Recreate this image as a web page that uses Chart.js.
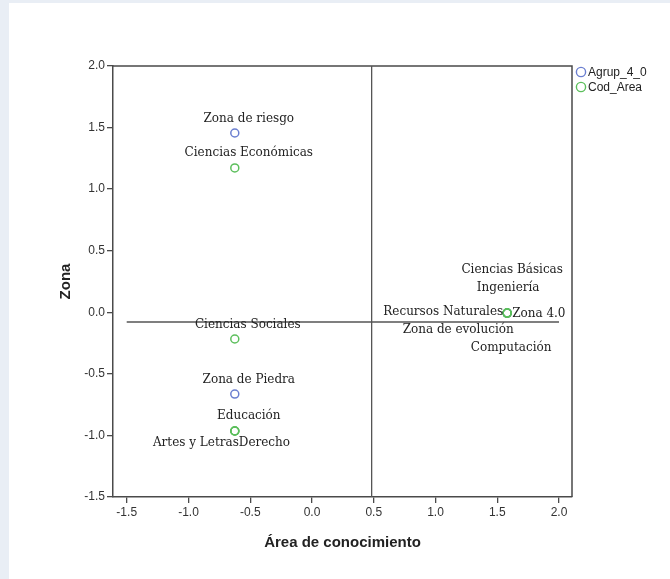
<!DOCTYPE html>
<html>
<head>
<meta charset="utf-8">
<script src="https://cdn.jsdelivr.net/npm/chart.js@4"></script>
<style>
  html, body { margin:0; padding:0; width:670px; height:579px; background:#e9eef5; overflow:hidden; }
  #panel { position:absolute; left:9px; top:3px; right:0; bottom:0; background:#ffffff; }
  #c { position:absolute; left:0; top:0; }
</style>
</head>
<body>
<div id="panel"></div>
<canvas id="c" width="670" height="579"></canvas>
<script>
// ---- data ----
const agrupNames = ['Zona de riesgo', 'Zona de Piedra', 'Zona 4.0', 'Zona de evolución'];
const agrupX = [-0.625, -0.625, 1.58, 1.58];
const agrupY = [1.456, -0.664, -0.006, -0.006];

const codNames = ['Ciencias Económicas', 'Ciencias Sociales', 'Educación', 'Artes y Letras', 'Derecho',
                  'Ciencias Básicas', 'Ingeniería', 'Recursos Naturales', 'Computación'];
const codX = [-0.625, -0.625, -0.625, -0.625, -0.625, 1.58, 1.58, 1.58, 1.58];
const codY = [1.172, -0.217, -0.964, -0.964, -0.964, -0.006, -0.006, -0.006, -0.006];

const seriesNames = ['Agrup_4_0', 'Cod_Area'];
const refLineX = 0.483;          // vertical reference line (x value)
const refLineY = -0.079;         // horizontal reference line (y value)
const refLineYSpan = [-1.5, 2.0];
const xRange = [-1.611, 2.105];
const yRange = [-1.5, 2.0];
const tickStep = 0.5;
const xTitle = 'Área de conocimiento';
const yTitle = 'Zona';

// ---- styles ----
const BLUE = '#6b7fd0';
const GREEN = '#5cbf5c';
const AXIS = '#4a4a4a';
const labelFont = '12px "DejaVu Serif"';
// label placement relative to point (pixels)
const labelPlace = {
  'Zona de riesgo': {dx: 14, dy: -14, align: 'center'},
  'Zona de Piedra': {dx: 14, dy: -14, align: 'center'},
  'Zona 4.0': {dx: 5, dy: 1, align: 'left'},
  'Zona de evolución': {dx: -49, dy: 17, align: 'center'},
  'Ciencias Económicas': {dx: 14, dy: -15, align: 'center'},
  'Ciencias Sociales': {dx: 13, dy: -14, align: 'center'},
  'Educación': {dx: 14, dy: -15, align: 'center'},
  'Artes y Letras': {dx: 4, dy: 12, align: 'right'},
  'Derecho': {dx: 4, dy: 12, align: 'left'},
  'Ciencias Básicas': {dx: 5, dy: -43, align: 'center'},
  'Ingeniería': {dx: 1, dy: -25, align: 'center'},
  'Recursos Naturales': {dx: -4, dy: -1, align: 'right'},
  'Computación': {dx: 4, dy: 35, align: 'center'}
};

const agrupData = agrupX.map((x, i) => ({x, y: agrupY[i], name: agrupNames[i]}));
const codData = codX.map((x, i) => ({x, y: codY[i], name: codNames[i]}));

const decorPlugin = {
  id: 'decor',
  beforeDatasetsDraw(chart) {
    const {ctx, chartArea: a, scales: {x, y}} = chart;
    ctx.save();
    ctx.strokeStyle = AXIS;
    ctx.lineWidth = 1.5;
    // frame top & right
    ctx.beginPath();
    ctx.moveTo(a.left, a.top); ctx.lineTo(a.right, a.top); ctx.lineTo(a.right, a.bottom);
    ctx.stroke();
    // reference lines
    ctx.strokeStyle = '#555';
    ctx.lineWidth = 1.3;
    const vx = x.getPixelForValue(refLineX);
    ctx.beginPath(); ctx.moveTo(vx, a.top); ctx.lineTo(vx, a.bottom); ctx.stroke();
    const hy = y.getPixelForValue(refLineY);
    ctx.beginPath();
    ctx.moveTo(x.getPixelForValue(refLineYSpan[0]), hy);
    ctx.lineTo(x.getPixelForValue(refLineYSpan[1]), hy);
    ctx.stroke();
    ctx.restore();
  },
  afterDatasetsDraw(chart) {
    const {ctx, chartArea: a, scales: {x, y}} = chart;
    ctx.save();
    ctx.font = labelFont;
    ctx.fillStyle = '#222';
    ctx.textBaseline = 'middle';
    chart.data.datasets.forEach(ds => {
      ds.data.forEach(p => {
        const pl = labelPlace[p.name] || {dx: 0, dy: -14, align: 'center'};
        ctx.textAlign = pl.align;
        ctx.fillText(p.name, x.getPixelForValue(p.x) + pl.dx, y.getPixelForValue(p.y) + pl.dy);
      });
    });
    // axis titles
    ctx.fillStyle = '#222';
    ctx.font = 'bold 15px "Liberation Sans", Arial, sans-serif';
    ctx.textAlign = 'center';
    ctx.fillText(xTitle, (a.left + a.right) / 2, 543);
    ctx.save();
    ctx.translate(66, (a.top + a.bottom) / 2);
    ctx.rotate(-Math.PI / 2);
    ctx.fillText(yTitle, 0, 0);
    ctx.restore();
    // legend
    ctx.font = '12px "Liberation Sans", Arial, sans-serif';
    ctx.textAlign = 'left';
    chart.data.datasets.forEach((ds, i) => {
      const cy = 72 + i * 15;
      ctx.beginPath();
      ctx.arc(581, cy, 4.6, 0, Math.PI * 2);
      ctx.strokeStyle = ds.borderColor;
      ctx.lineWidth = 1.4;
      ctx.stroke();
      ctx.fillStyle = '#222';
      ctx.fillText(ds.label, 588, cy + 1);
    });
    ctx.restore();
  }
};

const tickFont = {family: '"Liberation Sans", Arial, sans-serif', size: 12};

new Chart(document.getElementById('c'), {
  type: 'scatter',
  data: {
    datasets: [
      {label: seriesNames[0], data: agrupData, borderColor: BLUE, backgroundColor: 'rgba(0,0,0,0)',
       pointRadius: 4, pointBorderWidth: 1.5, pointHoverRadius: 4, order: 2},
      {label: seriesNames[1], data: codData, borderColor: GREEN, backgroundColor: 'rgba(0,0,0,0)',
       pointRadius: 4, pointBorderWidth: 1.5, pointHoverRadius: 4, order: 1}
    ]
  },
  options: {
    responsive: false,
    animation: false,
    events: [],
    layout: {padding: {top: 66, right: 98, left: 0, bottom: 0}},
    plugins: {legend: {display: false}, tooltip: {enabled: false}},
    scales: {
      x: {
        type: 'linear', min: xRange[0], max: xRange[1],
        afterFit(s) { s.height = 82; },
        ticks: {stepSize: tickStep, includeBounds: false, color: '#333', font: tickFont, padding: 2,
                maxRotation: 0, callback: v => v.toFixed(1)},
        grid: {drawOnChartArea: false, drawTicks: true, tickLength: 6, color: AXIS, lineWidth: 1.3},
        border: {color: AXIS, width: 1.5}
      },
      y: {
        type: 'linear', min: yRange[0], max: yRange[1],
        afterFit(s) { s.width = 113; },
        ticks: {stepSize: tickStep, includeBounds: false, color: '#333', font: tickFont, padding: 2,
                callback: v => v.toFixed(1)},
        grid: {drawOnChartArea: false, drawTicks: true, tickLength: 6, color: AXIS, lineWidth: 1.3},
        border: {color: AXIS, width: 1.5}
      }
    }
  },
  plugins: [decorPlugin]
});
</script>
</body>
</html>
